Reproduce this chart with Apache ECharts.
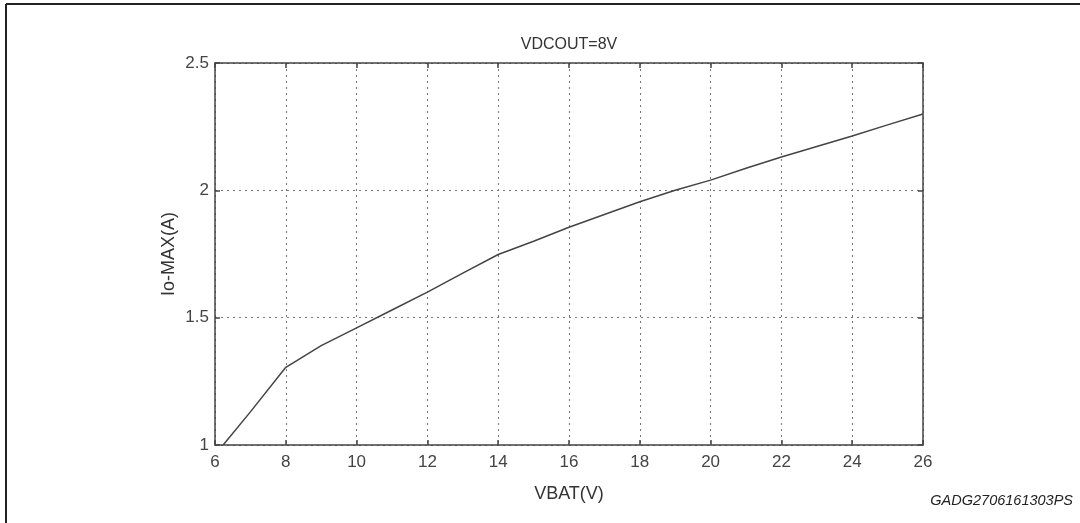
<!DOCTYPE html>
<html>
<head>
<meta charset="utf-8">
<script src="https://cdn.jsdelivr.net/npm/echarts@6/dist/echarts.min.js"></script>
<style>
  html, body { margin: 0; padding: 0; background: #fff; }
  #chart { width: 1080px; height: 523px; }
</style>
</head>
<body>
<div id="chart"></div>
<script>
// Maximum output current vs. battery voltage, VDCOUT = 8 V
const vbat = [6.23, 7, 8, 9, 10, 11, 12, 13, 14, 15, 16, 17, 18, 19, 20, 21, 22, 23, 24, 25, 26];
const ioMax = [1.0, 1.13, 1.305, 1.39, 1.46, 1.53, 1.60, 1.675, 1.748, 1.80, 1.855, 1.905, 1.955, 2.0, 2.04, 2.087, 2.131, 2.172, 2.213, 2.257, 2.30];
const xTicks = [6, 8, 10, 12, 14, 16, 18, 20, 22, 24, 26];
const yTicks = [1, 1.5, 2, 2.5];

const points = vbat.map((v, i) => [v, ioMax[i]]);
const axisColor = '#444';
const font = 'Liberation Sans, Arial, sans-serif';

const frameAxis = {
  axisLine: { show: true, lineStyle: { color: axisColor, width: 1.5 } },
  axisTick: { show: true, inside: true, length: 5, lineStyle: { color: axisColor, width: 1.5 } },
  axisLabel: { show: false }, splitLine: { show: false }
};
const gridLine = { show: true, lineStyle: { color: '#777', type: [2, 4], width: 1 } };

const chart = echarts.init(document.getElementById('chart'));
chart.setOption({
  animation: false,
  backgroundColor: '#fff',
  title: {
    text: 'VDCOUT=8V',
    left: 564, top: 32, textAlign: 'center',
    textStyle: { fontFamily: font, fontSize: 16, fontWeight: 'normal', color: '#333' }
  },
  grid: { left: 215, top: 63, right: 157, bottom: 78 },
  xAxis: [{
    type: 'value', min: xTicks[0], max: xTicks[xTicks.length - 1], interval: 2,
    name: 'VBAT(V)', nameLocation: 'middle', nameGap: 40, nameMoveOverlap: false,
    nameTextStyle: { fontFamily: font, fontSize: 18, color: '#333' },
    axisLine: { show: true, lineStyle: { color: axisColor, width: 1.5 } },
    axisTick: { show: true, inside: true, length: 5, lineStyle: { color: axisColor, width: 1.5 } },
    axisLabel: { fontFamily: font, fontSize: 17, color: '#444', margin: 9 },
    splitLine: gridLine
  }, Object.assign({
    type: 'value', position: 'top', min: xTicks[0], max: xTicks[xTicks.length - 1], interval: 2
  }, frameAxis)],
  yAxis: [{
    type: 'value', min: yTicks[0], max: yTicks[yTicks.length - 1], interval: 0.5,
    name: 'Io-MAX(A)', nameLocation: 'middle', nameGap: 37, nameRotate: 90, nameMoveOverlap: false,
    nameTextStyle: { fontFamily: font, fontSize: 18, color: '#333' },
    axisLine: { show: true, lineStyle: { color: axisColor, width: 1.5 } },
    axisTick: { show: true, inside: true, length: 5, lineStyle: { color: axisColor, width: 1.5 } },
    axisLabel: { fontFamily: font, fontSize: 17, color: '#444', margin: 6 },
    splitLine: gridLine
  }, Object.assign({
    type: 'value', position: 'right', min: yTicks[0], max: yTicks[yTicks.length - 1], interval: 0.5
  }, frameAxis)],
  series: [{
    type: 'line', data: points, showSymbol: false, smooth: false,
    lineStyle: { color: '#444', width: 1.5 }
  }],
  graphic: [
    { type: 'line', shape: { x1: 6, y1: 4, x2: 1080, y2: 4 }, style: { stroke: '#222', lineWidth: 2 }, silent: true },
    { type: 'line', shape: { x1: 6, y1: 4, x2: 6, y2: 523 }, style: { stroke: '#222', lineWidth: 2 }, silent: true },
    { type: 'text', right: 7, top: 493, style: { text: 'GADG2706161303PS', fontFamily: font, fontSize: 14.5, fontStyle: 'italic', fill: '#222' } }
  ]
});
</script>
</body>
</html>
